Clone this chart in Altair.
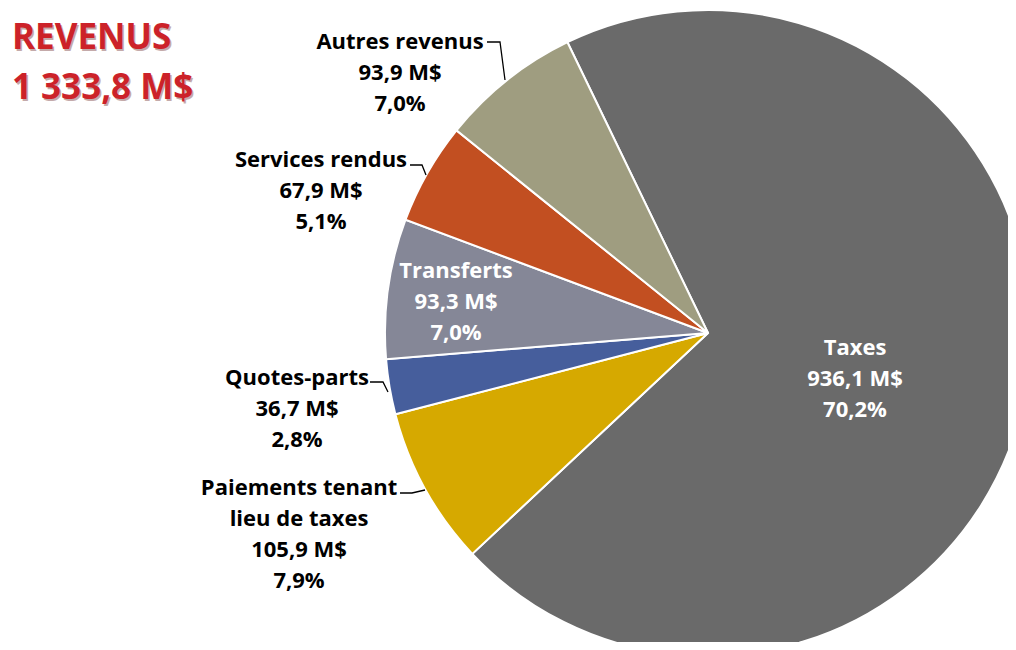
import altair as alt
import pandas as pd
import math

# ---- data ----
categories = ["Taxes", "Paiements tenant lieu de taxes", "Quotes-parts", "Transferts",
              "Services rendus", "Autres revenus"]
values = [936.1, 105.9, 36.7, 93.3, 67.9, 93.9]
percents = ["70,2%", "7,9%", "2,8%", "7,0%", "5,1%", "7,0%"]
amounts = ["936,1 M$", "105,9 M$", "36,7 M$", "93,3 M$", "67,9 M$", "93,9 M$"]
label_names = ["Taxes", "Paiements tenant\nlieu de taxes", "Quotes-parts", "Transferts",
               "Services rendus", "Autres revenus"]
colors = ["#6a6a6a", "#d6a900", "#465e9c", "#858797", "#c24f21", "#9f9d80"]
title_lines = ["REVENUS", "1 333,8 M$"]

# ---- layout (pixels, view coords) ----
CX, CY, R = 700, 325, 323
start = math.radians(334.2)
label_xy = {  # centre x, first-line y
    "Taxes": (847, 340), "Paiements tenant lieu de taxes": (291, 480),
    "Quotes-parts": (289, 370), "Transferts": (448, 263),
    "Services rendus": (313, 152), "Autres revenus": (392, 34),
}
label_color = {"Taxes": "white", "Transferts": "white"}
leaders = {
    "Autres revenus": [(479, 34), (492, 34), (497, 72)],
    "Services rendus": [(402, 157), (414, 157), (418, 167)],
    "Quotes-parts": [(362, 374), (375, 374), (380, 384)],
    "Paiements tenant lieu de taxes": [(392, 485), (404, 485), (417, 482)],
}
FONT = "Open Sans"

df = pd.DataFrame({"cat": categories, "value": values, "order": list(range(len(categories)))})

pie = alt.Chart(df).mark_arc(outerRadius=R, stroke="white", strokeWidth=2).encode(
    theta=alt.Theta("value:Q", stack=True,
                    scale=alt.Scale(range=[start, start + 2 * math.pi])),
    color=alt.Color("cat:N", scale=alt.Scale(domain=categories, range=colors), legend=None),
    order=alt.Order("order:Q"),
    x=alt.value(CX), y=alt.value(CY),
)

lab = pd.DataFrame({
    "cat": categories,
    "text": [f"{n}\n{a}\n{p}" for n, a, p in zip(label_names, amounts, percents)],
    "lx": [label_xy[c][0] for c in categories],
    "ly": [label_xy[c][1] for c in categories],
    "tc": [label_color.get(c, "black") for c in categories],
})
labels = alt.Chart(lab).mark_text(font=FONT, fontWeight="bold", fontSize=22,
                                  lineBreak="\n", lineHeight=31, align="center",
                                  baseline="middle").encode(
    x=alt.X("lx:Q", scale=None), y=alt.Y("ly:Q", scale=None),
    text="text:N", color=alt.Color("tc:N", scale=None),
)

rows = []
for c, pts in leaders.items():
    for i, (px, py) in enumerate(pts):
        rows.append({"cat": c, "i": i, "px": px, "py": py})
lines = alt.Chart(pd.DataFrame(rows)).mark_line(color="black", strokeWidth=1.3).encode(
    x=alt.X("px:Q", scale=None), y=alt.Y("py:Q", scale=None),
    detail="cat:N", order="i:Q",
)

tdf = pd.DataFrame({"t": title_lines, "tx": [4, 4], "ty": [30, 80]})
shadow = alt.Chart(tdf).mark_text(font=FONT, fontWeight="bold", fontSize=35, align="left",
                                  baseline="middle", color="#5a1010", opacity=0.35,
                                  dx=1.5, dy=1.5).encode(
    x=alt.X("tx:Q", scale=None), y=alt.Y("ty:Q", scale=None), text="t:N")
title = alt.Chart(tdf).mark_text(font=FONT, fontWeight="bold", fontSize=35, align="left",
                                 baseline="middle", color="#cc2229").encode(
    x=alt.X("tx:Q", scale=None), y=alt.Y("ty:Q", scale=None), text="t:N")

chart = alt.layer(pie, lines, labels, shadow, title).properties(
    width=1000, height=634, autosize=alt.AutoSizeParams(type="none"), padding=0,
).configure_view(stroke=None)

chart.save("out.html", embed_options={"renderer": "svg", "actions": False})
